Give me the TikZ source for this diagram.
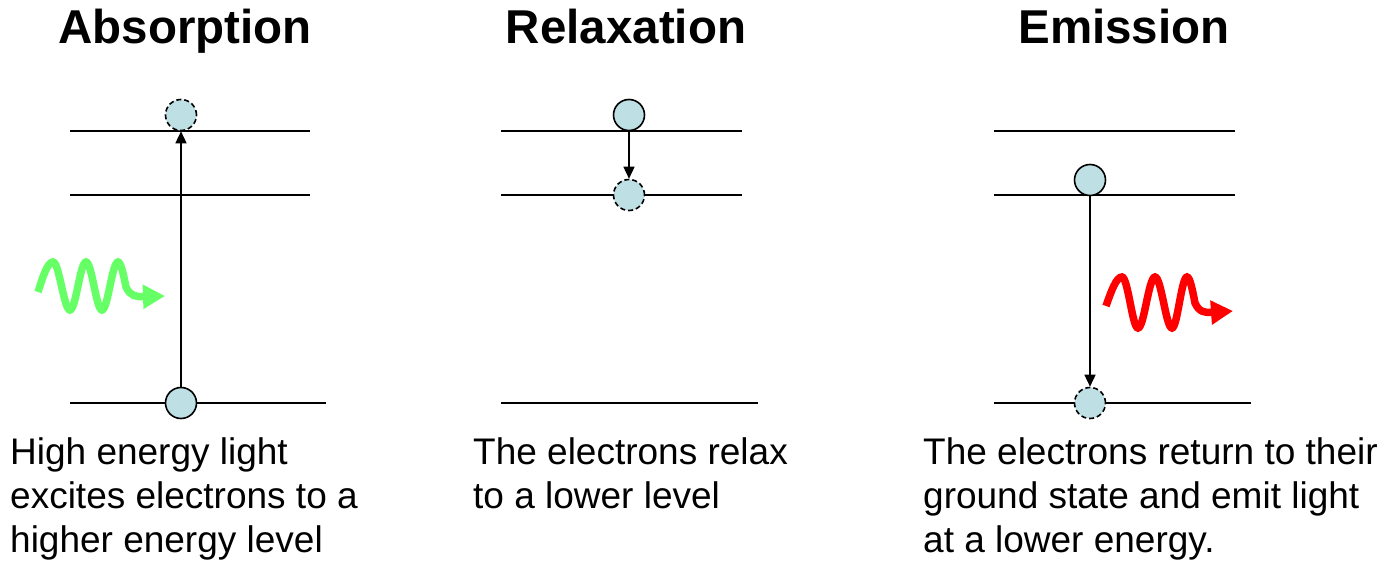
\documentclass[tikz,border=0pt]{standalone}
\usepackage{fontspec}
\setmainfont{Liberation Sans}
\usetikzlibrary{arrows.meta}
\definecolor{elec}{RGB}{190,224,228}
\definecolor{lgreen}{RGB}{102,255,102}
\begin{document}
\begin{tikzpicture}[x=1pt,y=-1pt,
  level/.style={line width=1.5pt},
  electron/.style={circle, draw, line width=1.6pt, fill=elec, minimum size=31pt, inner sep=0pt},
  excited/.style={electron, dash pattern=on 5pt off 3pt},
  jump/.style={line width=1.5pt, -{Triangle[length=12pt,width=11pt]}},
  titletext/.style={font=\fontsize{47.5}{52}\selectfont\bfseries, anchor=base, inner sep=0pt},
  captiontext/.style={font=\fontsize{37}{44}\selectfont, align=left, anchor=north west, inner sep=0pt},
  photon/.style={line width=7.5pt, -{Triangle[length=22pt,width=23pt]}}]
\useasboundingbox (0,0) rectangle (1387,561);
% titles
\node[titletext] (t1) at (185,44) {Absorption};
\node[titletext] (t2) at (626,44) {Relaxation};
\node[titletext] (t3) at (1124,44) {Emission};
% levels
\draw[level] (70,131) -- (310,131);
\draw[level] (70,195) -- (310,195);
\draw[level] (70,403) -- (326,403);
\draw[level] (501,131) -- (742,131);
\draw[level] (501,195) -- (742,195);
\draw[level] (501,403) -- (758,403);
\draw[level] (994,131) -- (1235,131);
\draw[level] (994,195) -- (1235,195);
\draw[level] (994,403) -- (1251,403);
% electrons
\node[excited] (a1) at (181,115) {};
\node[electron] (a0) at (181,403) {};
\node[electron] (r0) at (629,115) {};
\node[excited] (r1) at (629,195) {};
\node[electron] (e0) at (1090,180) {};
\node[excited] (e1) at (1090,403) {};
% transitions
\draw[jump] (a0.north) -- (a1.south);
\draw[jump] (r0.south) -- (r1.north);
\draw[jump] (e0.south) -- (e1.north);
% photons
\draw[photon, lgreen] (38,292) sin (53,262) cos (61.5,286) sin (70,310) cos (78,286)
  sin (86,262) cos (94,286) sin (102,310) cos (110,286) sin (118,262) cos (126,287)
  .. controls (130,296) and (136,297) .. (165,296);
\draw[photon, red] (1106,306) sin (1122,277) cos (1130,302) sin (1138,328) cos (1146.5,302)
  sin (1155,277) cos (1163.5,302) sin (1172,328) cos (1179.5,302) sin (1187,277) cos (1195,303)
  .. controls (1199,312) and (1205,313) .. (1233,311);
% captions
\node[captiontext] (c1) at (10,437) {High energy light\\excites electrons to a\\higher energy level};
\node[captiontext] (c2) at (473,437) {The electrons relax\\to a lower level};
\node[captiontext] (c3) at (923,437) {The electrons return to their\\ground state and emit light\\at a lower energy.};
\end{tikzpicture}
\end{document}
